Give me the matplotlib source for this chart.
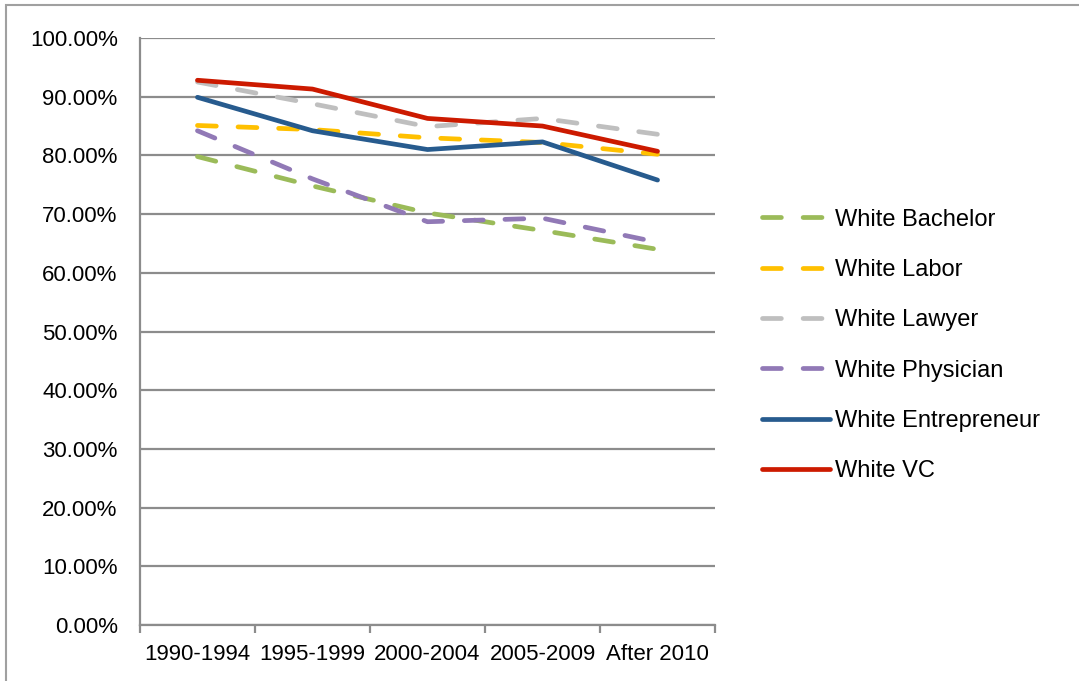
import matplotlib
matplotlib.use("Agg")
import matplotlib.pyplot as plt
from matplotlib.patches import Rectangle
from matplotlib.ticker import PercentFormatter

# categories
periods = ["1990-1994", "1995-1999", "2000-2004", "2005-2009", "After 2010"]

# series values (percent)
bachelor = [79.8, 74.8, 70.2, 67.2, 64.0]
labor = [85.1, 84.4, 83.0, 82.2, 80.2]
lawyer = [92.5, 88.8, 84.9, 86.3, 83.6]
physician = [84.2, 76.0, 68.7, 69.3, 65.2]
entrepreneur = [89.9, 84.2, 81.0, 82.3, 75.8]
vc = [92.8, 91.3, 86.3, 85.0, 80.7]

plt.rcParams['font.family'] = ['Liberation Sans', 'DejaVu Sans']

fig = plt.figure(figsize=(10.79, 6.81), dpi=100)
ax = fig.add_axes([0.1297, 0.0822, 0.533, 0.862])

x = list(range(len(periods)))
dash = (4.0, 4.6)
lw = 3.4

ax.plot(x, bachelor, color='#9BBB59', lw=lw, dashes=dash, dash_capstyle='round', label='White Bachelor')
ax.plot(x, labor, color='#FFC000', lw=lw, dashes=dash, dash_capstyle='round', label='White Labor')
ax.plot(x, lawyer, color='#BFBFBF', lw=lw, dashes=dash, dash_capstyle='round', label='White Lawyer')
ax.plot(x, physician, color='#9179B6', lw=lw, dashes=dash, dash_capstyle='round', label='White Physician')
ax.plot(x, entrepreneur, color='#275B8E', lw=lw, solid_capstyle='round', label='White Entrepreneur')
ax.plot(x, vc, color='#CC1A00', lw=lw, solid_capstyle='round', label='White VC')

ax.set_xlim(-0.5, len(periods) - 0.5)
ax.set_ylim(0, 100)
ax.set_yticks(range(0, 101, 10))
ax.yaxis.set_major_formatter(PercentFormatter(decimals=2))
ax.set_xticks(x)
ax.set_xticklabels(periods)
ax.set_xticks([i - 0.5 for i in range(len(periods) + 1)], minor=True)

ax.grid(axis='y', color='#8C8C8C', lw=1.6)
ax.set_axisbelow(True)
for s in ['top', 'right']:
    ax.spines[s].set_visible(False)
for s in ['left', 'bottom']:
    ax.spines[s].set_color('#8C8C8C')
    ax.spines[s].set_linewidth(1.6)

ax.tick_params(axis='x', which='major', length=0, pad=14, labelsize=16)
ax.tick_params(axis='x', which='minor', length=6, width=1.6, color='#8C8C8C', direction='out')
ax.tick_params(axis='y', length=0, pad=16, labelsize=16)

ax.legend(loc='center left', bbox_to_anchor=(0.706, 0.4927), bbox_transform=fig.transFigure,
          frameon=False, fontsize=17, handlelength=2.9, handletextpad=0.2,
          labelspacing=1.2, borderpad=0, borderaxespad=0)

fig.patches.append(Rectangle((6 / 1079, -0.02), 1.1, 1 - 5 / 681 + 0.02,
                             transform=fig.transFigure, fill=False,
                             edgecolor='#A0A0A0', lw=1.5))

fig.savefig('out.png', dpi=100)
